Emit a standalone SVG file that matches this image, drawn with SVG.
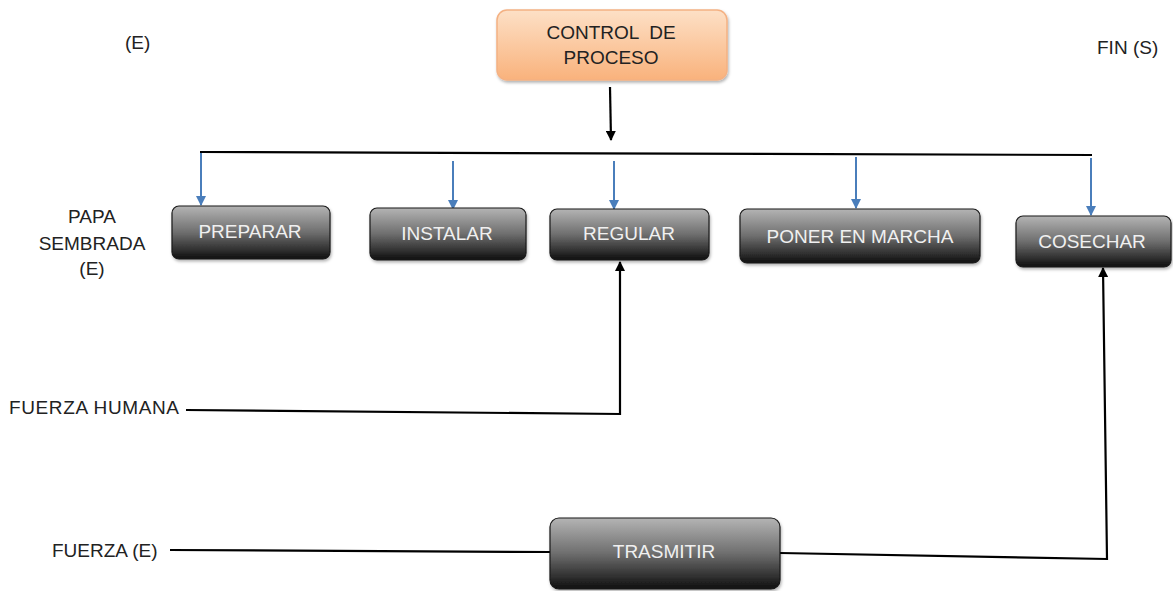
<svg xmlns="http://www.w3.org/2000/svg" width="1173" height="591" viewBox="0 0 1173 591">
<defs>
<linearGradient id="dark" x1="0" y1="0" x2="0" y2="1">
<stop offset="0" stop-color="#b4b4b4"/>
<stop offset="0.5" stop-color="#6e6e6e"/>
<stop offset="1" stop-color="#0e0e0e"/>
</linearGradient>
<linearGradient id="orange" x1="0" y1="0" x2="0" y2="1">
<stop offset="0" stop-color="#fde0c6"/>
<stop offset="1" stop-color="#f9b27c"/>
</linearGradient>
<marker id="ab" markerWidth="10" markerHeight="10" refX="9" refY="5" orient="auto" markerUnits="userSpaceOnUse">
<path d="M0,0 L10,5 L0,10 z" fill="#000"/>
</marker>
<marker id="ablue" markerWidth="10" markerHeight="10" refX="9" refY="5" orient="auto" markerUnits="userSpaceOnUse">
<path d="M0,0 L10,5 L0,10 z" fill="#4a7ebb"/>
</marker>
<filter id="sh" x="-10%" y="-10%" width="120%" height="130%">
<feDropShadow dx="1" dy="2" stdDeviation="1.5" flood-color="#000" flood-opacity="0.3"/>
</filter>
</defs>
<style>
.box{fill:url(#dark);stroke:#1a1a1a;stroke-width:1.2;filter:url(#sh)}
.bt{font-family:"Liberation Sans",Arial,sans-serif;font-size:19px;fill:#f0f0f0;text-anchor:middle}
.lbl{font-family:"Liberation Sans",Arial,sans-serif;font-size:19px;fill:#222}
.ln{fill:none;stroke:#000;stroke-width:2.2}
.blue{fill:none;stroke:#4a7ebb;stroke-width:2}
</style>
<g id="control">
<rect x="497" y="10" width="230" height="70" rx="10" fill="url(#orange)" stroke="#f4b183" stroke-width="1.5" filter="url(#sh)"/>
<text class="lbl" x="611" y="39" text-anchor="middle" font-size="19" xml:space="preserve">CONTROL  DE</text>
<text class="lbl" x="611" y="64" text-anchor="middle" font-size="19">PROCESO</text>
</g>
<g id="labels">
<text class="lbl" x="125" y="49">(E)</text>
<text class="lbl" x="1097" y="54">FIN (S)</text>
<text class="lbl" x="92" y="223" text-anchor="middle">PAPA</text>
<text class="lbl" x="92" y="250" text-anchor="middle">SEMBRADA</text>
<text class="lbl" x="92" y="275" text-anchor="middle">(E)</text>
<text class="lbl" x="9" y="414" textLength="170">FUERZA HUMANA</text>
<text class="lbl" x="52" y="557">FUERZA (E)</text>
</g>
<g id="connectors">
<line class="ln" x1="610" y1="87" x2="611" y2="140" marker-end="url(#ab)"/>
<line class="ln" x1="200" y1="152" x2="1092" y2="155"/>
<line class="blue" x1="201" y1="153" x2="201" y2="205" marker-end="url(#ablue)"/>
<line class="blue" x1="453" y1="161" x2="453" y2="209" marker-end="url(#ablue)"/>
<line class="blue" x1="614" y1="161" x2="614" y2="209" marker-end="url(#ablue)"/>
<line class="blue" x1="856" y1="157" x2="856" y2="208" marker-end="url(#ablue)"/>
<line class="blue" x1="1091" y1="158" x2="1091" y2="215" marker-end="url(#ablue)"/>
<polyline class="ln" points="186,410 620,414 620,262" marker-end="url(#ab)"/>
<line class="ln" x1="170" y1="550" x2="550" y2="552"/>
<polyline class="ln" points="780,553 1107,559 1103,268" marker-end="url(#ab)"/>
</g>
<g id="preparar">
<rect class="box" x="172" y="206" width="158" height="53" rx="7"/>
<text class="bt" x="250" y="238">PREPARAR</text>
</g>
<g id="instalar">
<rect class="box" x="370" y="208" width="156" height="52" rx="7"/>
<text class="bt" x="447" y="240">INSTALAR</text>
</g>
<g id="regular">
<rect class="box" x="550" y="209" width="159" height="51" rx="7"/>
<text class="bt" x="629" y="240">REGULAR</text>
</g>
<g id="poner">
<rect class="box" x="740" y="209" width="240" height="54" rx="7"/>
<text class="bt" x="860" y="243">PONER EN MARCHA</text>
</g>
<g id="cosechar">
<rect class="box" x="1016" y="216" width="155" height="51" rx="7"/>
<text class="bt" x="1092" y="248">COSECHAR</text>
</g>
<g id="trasmitir">
<rect class="box" x="550" y="518" width="230" height="71" rx="9"/>
<text class="bt" x="664" y="558">TRASMITIR</text>
</g>
</svg>
